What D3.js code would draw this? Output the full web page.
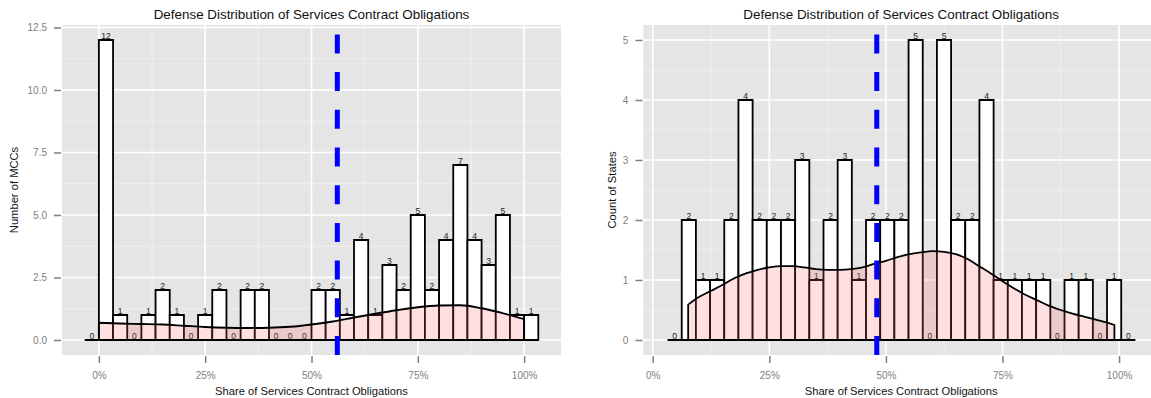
<!DOCTYPE html>
<html>
<head>
<meta charset="utf-8">
<script src="https://cdn.jsdelivr.net/npm/d3@7"></script>
<style>
  body { margin: 0; background: #fff; }
  text { font-family: "Liberation Sans", Arial, Helvetica, sans-serif; }
</style>
</head>
<body>
<script>
// ---- data ----
const chartTitle = 'Defense Distribution of Services Contract Obligations';
const xTitle = 'Share of Services Contract Obligations';
const xTicks = [0, 0.25, 0.5, 0.75, 1];
const xTickLabels = ['0%', '25%', '50%', '75%', '100%'];

// left: MCCs
const mccBinStart = -1 / 30;
const mccBinWidth = 1 / 30;
const mccCounts = [0, 12, 1, 0, 1, 2, 1, 0, 1, 2, 0, 2, 2, 0, 0, 0, 2, 2, 1, 4, 1, 3, 2, 5, 2, 4, 7, 4, 3, 5, 1, 1];
const mccDensX = [0, 0.05, 0.1, 0.15, 0.2, 0.25, 0.3, 0.35, 0.4, 0.45, 0.5, 0.55, 0.6, 0.65, 0.7, 0.75, 0.8, 0.85, 0.9, 0.95, 1];
const mccDensY = [0.69, 0.66, 0.64, 0.62, 0.57, 0.52, 0.49, 0.48, 0.49, 0.53, 0.62, 0.74, 0.9, 1.05, 1.19, 1.31, 1.38, 1.39, 1.27, 1.07, 0.83];
const mccMarker = 0.5607;
const mccYTicks = [0, 2.5, 5, 7.5, 10, 12.5];
const mccYLabels = ['0.0', '2.5', '5.0', '7.5', '10.0', '12.5'];
const mccYMinor = [1.25, 3.75, 6.25, 8.75, 11.25];

// right: states
const stBinStart = 0.0318;
const stBinWidth = 0.0304;
const stCounts = [0, 2, 1, 1, 2, 4, 2, 2, 2, 3, 1, 2, 3, 1, 2, 2, 2, 5, 0, 5, 2, 2, 4, 1, 1, 1, 1, 0, 1, 1, 0, 1, 0];
const stDensX = [0.076, 0.1, 0.125, 0.15, 0.175, 0.2, 0.225, 0.25, 0.275, 0.3, 0.325, 0.35, 0.375, 0.4, 0.425, 0.45, 0.475, 0.5, 0.525, 0.55, 0.575, 0.6, 0.625, 0.65, 0.675, 0.7, 0.725, 0.75, 0.775, 0.8, 0.825, 0.85, 0.875, 0.9, 0.925, 0.95, 0.975, 0.99];
const stDensY = [0.59, 0.72, 0.82, 0.92, 1.03, 1.11, 1.17, 1.21, 1.23, 1.23, 1.21, 1.18, 1.17, 1.17, 1.18, 1.21, 1.27, 1.32, 1.38, 1.43, 1.46, 1.48, 1.47, 1.43, 1.35, 1.23, 1.11, 0.98, 0.86, 0.75, 0.66, 0.57, 0.5, 0.44, 0.39, 0.34, 0.29, 0.25];
const stMarker = 0.4804;
const stYTicks = [0, 1, 2, 3, 4, 5];
const stYLabels = ['0', '1', '2', '3', '4', '5'];
const stYMinor = [0.5, 1.5, 2.5, 3.5, 4.5];

const xMinor = [0.125, 0.375, 0.625, 0.875];

const svg = d3.select('body').append('svg')
  .attr('width', 1151)
  .attr('height', 398);

function drawPanel(p) {
  const x = d3.scaleLinear().domain(p.xDomain).range(p.xRange);
  const y = d3.scaleLinear().domain(p.yDomain).range([355, 25]);
  const g = svg.append('g');
  const left = p.xRange[0], right = p.xRange[1];
  const mid = (left + right) / 2;

  g.append('rect')
    .attr('x', left).attr('y', 25)
    .attr('width', right - left).attr('height', 330)
    .attr('fill', '#E5E5E5');

  // minor grid
  g.selectAll('.ymin').data(p.yMinor).enter().append('line')
    .attr('x1', left).attr('x2', right)
    .attr('y1', d => y(d)).attr('y2', d => y(d))
    .attr('stroke', '#F2F2F2').attr('stroke-width', 0.8);
  g.selectAll('.xmin').data(xMinor).enter().append('line')
    .attr('y1', 25).attr('y2', 355)
    .attr('x1', d => x(d)).attr('x2', d => x(d))
    .attr('stroke', '#F2F2F2').attr('stroke-width', 0.8);
  // major grid
  g.selectAll('.ymaj').data(p.yTicks).enter().append('line')
    .attr('x1', left).attr('x2', right)
    .attr('y1', d => y(d)).attr('y2', d => y(d))
    .attr('stroke', '#fff').attr('stroke-width', 1.6);
  g.selectAll('.xmaj').data(xTicks).enter().append('line')
    .attr('y1', 25).attr('y2', 355)
    .attr('x1', d => x(d)).attr('x2', d => x(d))
    .attr('stroke', '#fff').attr('stroke-width', 1.6);

  // bars
  const bins = p.counts.map((c, i) => ({
    x0: p.binStart + i * p.binWidth,
    x1: p.binStart + (i + 1) * p.binWidth,
    n: c
  }));
  g.selectAll('.bar').data(bins).enter().append('path')
    .attr('d', d => `M${x(d.x0)},${y(0)}V${y(d.n)}H${x(d.x1)}V${y(0)}Z`)
    .attr('fill', '#fff')
    .attr('stroke', '#000')
    .attr('stroke-width', 1.8);
  g.selectAll('.lab').data(bins).enter().append('text')
    .attr('x', d => (x(d.x0) + x(d.x1)) / 2)
    .attr('y', d => y(d.n) - 1)
    .attr('text-anchor', 'middle')
    .attr('font-size', 8.5)
    .attr('fill', '#222')
    .text(d => d.n);

  // density
  const dens = p.densX.map((v, i) => [v, p.densY[i]]);
  const area = d3.area()
    .x(d => x(d[0]))
    .y0(y(0))
    .y1(d => y(d[1]))
    .curve(d3.curveMonotoneX);
  g.append('path')
    .attr('d', area(dens))
    .attr('fill', '#FF6666')
    .attr('fill-opacity', 0.2)
    .attr('stroke', '#000')
    .attr('stroke-width', 1.8);

  // marker line
  g.append('line')
    .attr('x1', x(p.marker)).attr('x2', x(p.marker))
    .attr('y1', 355).attr('y2', 25)
    .attr('stroke', '#0000FF')
    .attr('stroke-width', 5)
    .attr('stroke-dasharray', '19,18.7');

  // axes
  const ay = g.append('g')
    .attr('transform', `translate(${left - 1},0)`)
    .call(d3.axisLeft(y).tickValues(p.yTicks)
      .tickFormat((d, i) => p.yLabels[i]).tickSize(7).tickPadding(7));
  const ax = g.append('g')
    .attr('transform', 'translate(0,356)')
    .call(d3.axisBottom(x).tickValues(xTicks)
      .tickFormat((d, i) => xTickLabels[i]).tickSize(7).tickPadding(9));
  [ay, ax].forEach(a => {
    a.select('.domain').remove();
    a.selectAll('line').attr('stroke', '#7F7F7F').attr('stroke-width', 1.5);
    a.selectAll('text').attr('fill', '#7F7F7F').attr('font-size', 10)
      .attr('font-family', '"Liberation Sans", Arial, sans-serif');
  });

  // titles
  g.append('text')
    .attr('x', mid).attr('y', 19)
    .attr('text-anchor', 'middle')
    .attr('font-size', 13.4)
    .attr('fill', '#111')
    .text(chartTitle);
  g.append('text')
    .attr('x', mid).attr('y', 395)
    .attr('text-anchor', 'middle')
    .attr('font-size', 11.2)
    .attr('fill', '#111')
    .text(xTitle);
  g.append('text')
    .attr('transform', `translate(${p.yTitleX},190) rotate(-90)`)
    .attr('text-anchor', 'middle')
    .attr('font-size', 11.2)
    .attr('fill', '#111')
    .text(p.yTitle);
}

drawPanel({
  xDomain: [-0.0867, 1.0867], xRange: [62, 561],
  yDomain: [-0.6, 12.6],
  counts: mccCounts, binStart: mccBinStart, binWidth: mccBinWidth,
  densX: mccDensX, densY: mccDensY, marker: mccMarker,
  yTicks: mccYTicks, yLabels: mccYLabels, yMinor: mccYMinor,
  yTitle: 'Number of MCCs', yTitleX: 17.5
});

drawPanel({
  xDomain: [-0.02, 1.0852], xRange: [643.4, 1158.8],
  yDomain: [-0.25, 5.25],
  counts: stCounts, binStart: stBinStart, binWidth: stBinWidth,
  densX: stDensX, densY: stDensY, marker: stMarker,
  yTicks: stYTicks, yLabels: stYLabels, yMinor: stYMinor,
  yTitle: 'Count of States', yTitleX: 615.5
});
</script>
</body>
</html>
